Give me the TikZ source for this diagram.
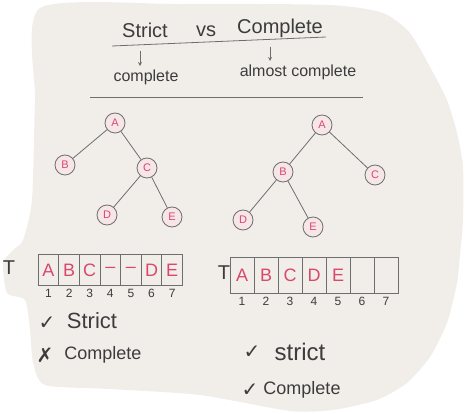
\documentclass[tikz,border=0pt]{standalone}
\usepackage{fontspec}
\setmainfont{Liberation Sans}
\newfontfamily\symfont{DejaVu Sans}
\definecolor{ink}{HTML}{3C3C3C}
\definecolor{pen}{HTML}{D9486B}
\definecolor{rim}{HTML}{6E6E6E}
\definecolor{paper}{HTML}{F1EEEA}
\definecolor{bubble}{HTML}{F7E6E8}
\begin{document}
\begin{tikzpicture}[x=1pt,y=-1pt,>=stealth,
  every node/.style={text=ink},
  ttl/.style={font=\fontsize{20}{22}\selectfont},
  note/.style={font=\fontsize{16}{18}\selectfont},
  big/.style={font=\fontsize{22}{24}\selectfont},
  tick/.style={font=\symfont\fontsize{20}{22}\selectfont},
  vtx/.style={circle,draw=rim,fill=bubble,thick,minimum size=20pt,inner sep=0pt,text=pen,font=\fontsize{11}{12}\selectfont},
  cell/.style={draw=rim,thick,inner sep=0pt,text=pen,font=\fontsize{18}{20}\selectfont},
  lcell/.style={cell,minimum width=20.6pt,minimum height=31pt},
  rcell/.style={cell,minimum width=24pt,minimum height=36pt},
  num/.style={font=\fontsize{12}{14}\selectfont},
  edge/.style={draw=rim,thick}]
\useasboundingbox (0,0) rectangle (468,414);
\clip (0,0) rectangle (468,414);
\fill[paper] plot[smooth cycle,tension=0.4] coordinates {(40,8) (180,4) (330,5) (383,13) (410,33) (430,67)
  (447,100) (457,133) (463,167) (463,220) (460,255) (457,283) (447,323) (430,357) (407,383) (377,400)
  (333,410) (290,411) (200,395) (110,389) (45,385) (33,362) (30,330) (25,300) (7,293) (3,263)
  (13,250) (23,240) (32,200) (35,100)};

% heading
\node[ttl,anchor=base] (strict) at (145,38) {Strict};
\node[ttl,anchor=base] (vs) at (206,37) {vs};
\node[ttl,anchor=base] (complete) at (280,34) {Complete};
\draw[rim,thick] (112,46) -- (326,37);
\node[note] (full) at (146,77) {complete};
\node[note] (almost) at (298,72) {almost complete};
\draw[->,rim,thick,shorten <=9pt] ([xshift=-5pt]strict.south) -- ([xshift=-6pt]full.north);
\draw[->,rim,thick,shorten <=5pt] ([xshift=-10pt]complete.south) -- ([xshift=-28pt]almost.north);
\draw[rim,thick] (90,97) -- (363,97);

% strict tree
\node[vtx] (la) at (115,123) {A};
\node[vtx] (lb) at (65,165) {B};
\node[vtx] (lc) at (147,168) {C};
\node[vtx] (ld) at (107,215) {D};
\node[vtx] (le) at (172,217) {E};
\draw[edge] (la) -- (lb);
\draw[edge] (la) -- (lc);
\draw[edge] (lc) -- (ld);
\draw[edge] (lc) -- (le);

% complete tree
\node[vtx] (ra) at (322,125) {A};
\node[vtx] (rb) at (283,172) {B};
\node[vtx] (rc) at (375,175) {C};
\node[vtx] (rd) at (243,220) {D};
\node[vtx] (re) at (313,227) {E};
\draw[edge] (ra) -- (rb);
\draw[edge] (ra) -- (rc);
\draw[edge] (rb) -- (rd);
\draw[edge] (rb) -- (re);

% arrays
\node[ttl] (lt) at (9,268) {T};
\node[lcell,label={[num]below:1}] (l1) at (48.5,270) {A};
\node[lcell,label={[num]below:2}] (l2) at (69.1,270) {B};
\node[lcell,label={[num]below:3}] (l3) at (89.7,270) {C};
\node[lcell,label={[num]below:4}] (l4) at (110.3,270) {--};
\node[lcell,label={[num]below:5}] (l5) at (130.9,270) {--};
\node[lcell,label={[num]below:6}] (l6) at (151.5,270) {D};
\node[lcell,label={[num]below:7}] (l7) at (172.1,270) {E};

\node[ttl] (rt) at (224,273) {T};
\node[rcell,label={[num]below:1}] (r1) at (242,275) {A};
\node[rcell,label={[num]below:2}] (r2) at (266,275) {B};
\node[rcell,label={[num]below:3}] (r3) at (290,275) {C};
\node[rcell,label={[num]below:4}] (r4) at (314,275) {D};
\node[rcell,label={[num]below:5}] (r5) at (338,275) {E};
\node[rcell,label={[num]below:6}] (r6) at (362,275) {};
\node[rcell,label={[num]below:7}] (r7) at (386,275) {};

% verdicts
\node[tick] (lok) at (47,323) {✓};
\node[big] (lstrict) at (92,321) {Strict};
\node[tick] (lno) at (45,355) {✗};
\node[note,font=\fontsize{18}{20}\selectfont] (lcompl) at (103,355) {Complete};
\node[tick] (rok) at (252,352) {✓};
\node[big,font=\fontsize{24}{26}\selectfont] (rstrict) at (300,352) {strict};
\node[tick] (rok2) at (250,390) {✓};
\node[note,font=\fontsize{18}{20}\selectfont] (rcompl) at (302,390) {Complete};
\end{tikzpicture}
\end{document}
